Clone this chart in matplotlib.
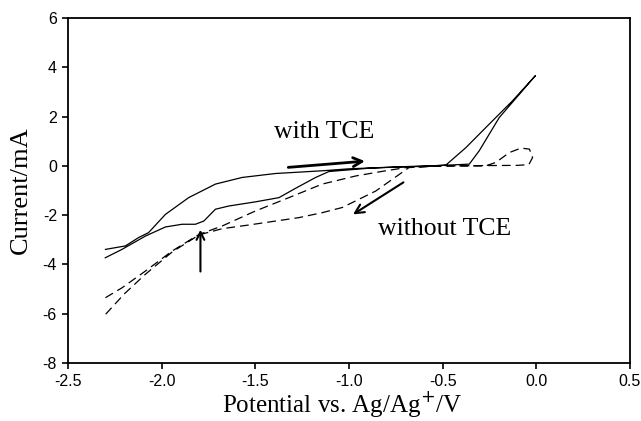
import matplotlib
matplotlib.use("Agg")
import matplotlib.pyplot as plt

# ---- data ----
# with TCE (solid): one closed cyclic voltammogram path
with_tce_v = [-2.30, -2.194, -2.123, -2.07, -1.98, -1.856, -1.713, -1.57, -1.392, -1.143,
              -1.0, -0.8, -0.6, -0.483, -0.376, -0.269, -0.127, -0.005,
              -0.198, -0.305, -0.358, -0.5, -0.7, -0.9, -1.107,
              -1.178, -1.285, -1.374, -1.499, -1.642, -1.713, -1.775, -1.82, -1.891,
              -1.98, -2.087, -2.212, -2.301]
with_tce_i = [-3.39, -3.25, -2.91, -2.71, -1.97, -1.29, -0.74, -0.47, -0.31, -0.20,
              -0.12, -0.06, -0.02, 0.03, 0.74, 1.56, 2.64, 3.66,
              1.96, 0.61, 0.07, 0.02, -0.03, -0.10, -0.23,
              -0.47, -0.91, -1.29, -1.46, -1.63, -1.76, -2.24, -2.37, -2.37,
              -2.48, -2.85, -3.39, -3.73]

# without TCE (dashed)
without_tce_v = [-2.30, -2.212, -2.087, -1.945, -1.80, -1.677, -1.499, -1.321, -1.143,
                 -0.964, -0.82, -0.68, -0.5, -0.27, -0.216, -0.144, -0.082, -0.037,
                 -0.02, -0.04, -0.1, -0.3, -0.5, -0.68, -0.857, -1.036, -1.143,
                 -1.267, -1.535, -1.677, -1.80, -1.945, -2.087, -2.2, -2.30]
without_tce_i = [-5.35, -4.95, -4.27, -3.46, -2.78, -2.44, -1.83, -1.29, -0.74,
                 -0.41, -0.22, -0.05, 0.0, 0.0, 0.14, 0.54, 0.72, 0.68,
                 0.34, 0.05, 0.02, 0.01, 0.0, -0.07, -1.02, -1.69, -1.90,
                 -2.10, -2.40, -2.55, -2.80, -3.50, -4.40, -5.20, -6.03]

x_ticks = [-2.5, -2.0, -1.5, -1.0, -0.5, 0.0, 0.5]
x_tick_labels = ["-2.5", "-2.0", "-1.5", "-1.0", "-0.5", "0.0", "0.5"]
y_ticks = [-8, -6, -4, -2, 0, 2, 4, 6]
y_tick_labels = ["-8", "-6", "-4", "-2", "0", "2", "4", "6"]

serif = ["Liberation Serif", "DejaVu Serif"]
sans = ["Liberation Sans", "DejaVu Sans"]

fig = plt.figure(figsize=(6.41, 4.21), dpi=100)
ax = fig.add_axes([68/641, 1 - 363/421, (630 - 68)/641, (363 - 18)/421])

ax.plot(with_tce_v, with_tce_i, color="black", lw=0.9, solid_joinstyle="round")
ax.plot(without_tce_v, without_tce_i, color="black", lw=0.9, linestyle=(0, (7, 4)))

ax.set_xlim(-2.5, 0.5)
ax.set_ylim(-8, 6)
ax.set_xticks(x_ticks)
ax.set_xticklabels(x_tick_labels, fontfamily=sans, fontsize=11.5)
ax.set_yticks(y_ticks)
ax.set_yticklabels(y_tick_labels, fontfamily=sans, fontsize=11.5)
ax.tick_params(direction="out", length=4, width=1.2, pad=4)

for s in ax.spines.values():
    s.set_linewidth(1.3)

fig.text(342/641, 2/421, "Potential vs. Ag/Ag$^{+}$/V", fontfamily=serif,
         fontsize=18, ha="center", va="bottom")
ax.set_ylabel("Current/mA", fontfamily=serif, fontsize=19, labelpad=8)

# annotations
ax.text(-1.13, 1.36, "with TCE", fontfamily=serif, fontsize=18.5, ha="center", va="center")
ax.text(-0.487, -2.56, "without TCE", fontfamily=serif, fontsize=18.5, ha="center", va="center")

ax.annotate("", xy=(-0.90, 0.20), xytext=(-1.339, -0.07),
            arrowprops=dict(arrowstyle="->", lw=2.0, color="black", mutation_scale=16))
ax.annotate("", xy=(-0.991, -2.03), xytext=(-0.697, -0.61),
            arrowprops=dict(arrowstyle="->", lw=1.5, color="black", mutation_scale=16))
ax.annotate("", xy=(-1.793, -2.48), xytext=(-1.793, -4.40),
            arrowprops=dict(arrowstyle="->", lw=1.5, color="black", mutation_scale=14))

fig.savefig("out.png", dpi=100)
